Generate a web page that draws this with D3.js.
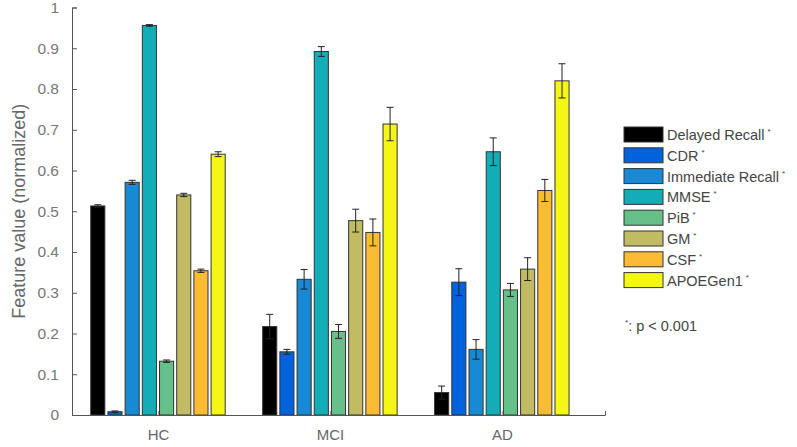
<!DOCTYPE html>
<html>
<head>
<meta charset="utf-8">
<script src="https://cdn.jsdelivr.net/npm/d3@7.9.0/dist/d3.min.js"></script>
<style>
  body { margin: 0; background: #fff; }
  svg { font-family: "Liberation Sans", Arial, sans-serif; }
</style>
</head>
<body>
<svg id="chart" width="797" height="447"></svg>
<script>
const groups = ['HC', 'MCI', 'AD'];
const features = ['Delayed Recall', 'CDR', 'Immediate Recall', 'MMSE', 'PiB', 'GM', 'CSF', 'APOEGen1'];
const colors = ['#000000', '#0063de', '#1889d4', '#13adb8', '#65c08a', '#c1bb63', '#fbbc33', '#f6f615'];

// mean per group, one array per feature
const means = [
  [0.513, 0.217, 0.055],
  [0.008, 0.155, 0.326],
  [0.571, 0.333, 0.161],
  [0.956, 0.892, 0.646],
  [0.132, 0.205, 0.307],
  [0.540, 0.477, 0.358],
  [0.354, 0.448, 0.551],
  [0.640, 0.714, 0.820]
];
const errors = [
  [0.003, 0.030, 0.016],
  [0.002, 0.006, 0.033],
  [0.005, 0.024, 0.024],
  [0.002, 0.012, 0.034],
  [0.003, 0.017, 0.016],
  [0.004, 0.028, 0.028],
  [0.004, 0.033, 0.027],
  [0.006, 0.041, 0.042]
];
const yTicks = [0, 0.1, 0.2, 0.3, 0.4, 0.5, 0.6, 0.7, 0.8, 0.9, 1];

const svg = d3.select('#chart');
const x = d3.scaleLinear().domain([0.5, 3.6]).range([72, 605]);
const y = d3.scaleLinear().domain([0, 1]).range([415, 7.5]);

const pitch = 0.1;
const barW = 0.082;

// bars
features.forEach((f, i) => {
  groups.forEach((g, j) => {
    let cx = (j + 1) + (i - 3.5) * pitch;
    let v = means[i][j];
    svg.append('rect')
      .attr('x', x(cx - barW / 2))
      .attr('y', y(v))
      .attr('width', x(cx + barW / 2) - x(cx - barW / 2))
      .attr('height', y(0) - y(v))
      .attr('fill', colors[i])
      .attr('stroke', '#333')
      .attr('stroke-width', 1);
  });
});

// error bars
features.forEach((f, i) => {
  groups.forEach((g, j) => {
    let cx = x((j + 1) + (i - 3.5) * pitch);
    let lo = y(means[i][j] - errors[i][j]);
    let hi = y(means[i][j] + errors[i][j]);
    let eb = svg.append('g').attr('stroke', '#222').attr('stroke-width', 1);
    eb.append('line').attr('x1', cx).attr('x2', cx).attr('y1', lo).attr('y2', hi);
    eb.append('line').attr('x1', cx - 3.5).attr('x2', cx + 3.5).attr('y1', lo).attr('y2', lo);
    eb.append('line').attr('x1', cx - 3.5).attr('x2', cx + 3.5).attr('y1', hi).attr('y2', hi);
  });
});

// axes
const yAxis = d3.axisLeft(y).tickValues(yTicks).tickSize(-5).tickPadding(13)
  .tickFormat(d => d === 0 || d === 1 ? d3.format('d')(d) : d3.format('.1f')(d));
const yG = svg.append('g').attr('transform', `translate(${x(0.5)},0)`).call(yAxis);
yG.select('.domain').attr('stroke', '#555');
yG.selectAll('.tick line').attr('stroke', '#555');
yG.selectAll('text').attr('fill', '#777').style('font-size', '15.5px');

const xAxis = d3.axisBottom(x).tickValues([1, 2, 3]).tickSize(-4).tickPadding(14)
  .tickFormat((d, i) => groups[i]);
const xG = svg.append('g').attr('transform', `translate(0,${y(0)})`).call(xAxis);
xG.select('.domain').attr('stroke', '#555');
xG.selectAll('.tick line').attr('stroke', '#999');
xG.selectAll('text').attr('fill', '#666').style('font-size', '15px');

svg.append('text')
  .attr('transform', `translate(25,${y(0.5)}) rotate(-90)`)
  .attr('text-anchor', 'middle')
  .attr('fill', '#666')
  .style('font-size', '18px')
  .text('Feature value (normalized)');

// legend
const leg = svg.append('g').attr('transform', 'translate(624,127)');
features.forEach((f, i) => {
  let row = leg.append('g').attr('transform', `translate(0,${i * 20.8})`);
  row.append('rect').attr('width', 39).attr('height', 15)
    .attr('fill', colors[i]).attr('stroke', '#333').attr('stroke-width', 1);
  let t = row.append('text').attr('x', 43).attr('y', 13)
    .attr('fill', '#444').style('font-size', '14.5px');
  t.append('tspan').text(f);
  t.append('tspan').attr('dx', 3).attr('dy', -6).style('font-size', '8px').text('*');
});
const note = svg.append('text').attr('x', 625).attr('y', 331)
  .attr('fill', '#444').style('font-size', '14.5px');
note.append('tspan').attr('dy', -6).style('font-size', '8px').text('*');
note.append('tspan').attr('dy', 6).text(': p < 0.001');
</script>
</body>
</html>
